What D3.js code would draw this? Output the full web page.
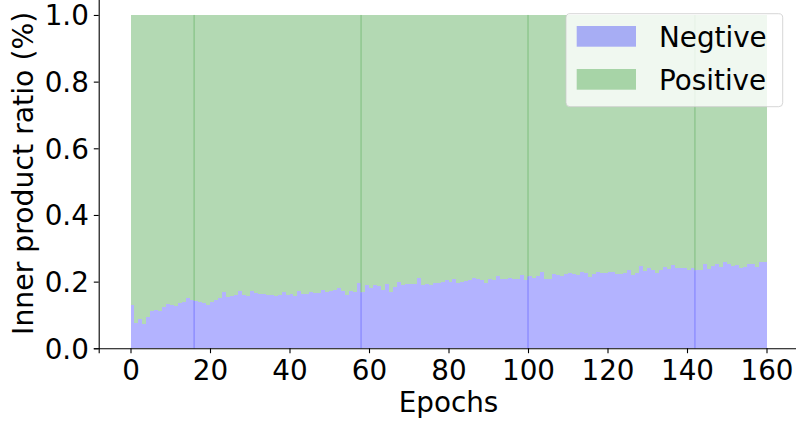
<!DOCTYPE html>
<html>
<head>
<meta charset="utf-8">
<script src="https://cdn.jsdelivr.net/npm/d3@7"></script>
<style>
  body { margin: 0; background: #fff; }
  svg { display: block; font-family: "DejaVu Sans", sans-serif; }
</style>
</head>
<body>
<svg id="chart" width="796" height="423"></svg>
<script>
// epochs 0..159, one bar each
const epochs = d3.range(160)

// share of negative inner products per epoch
const negativeRatio = [
  0.131, 0.076, 0.087, 0.073, 0.093, 0.111, 0.114, 0.111, 0.123, 0.133,
  0.129, 0.127, 0.135, 0.139, 0.150, 0.144, 0.143, 0.139, 0.137, 0.130,
  0.139, 0.146, 0.150, 0.168, 0.153, 0.156, 0.159, 0.171, 0.159, 0.157,
  0.173, 0.166, 0.164, 0.164, 0.161, 0.161, 0.157, 0.159, 0.168, 0.159,
  0.162, 0.157, 0.171, 0.164, 0.164, 0.168, 0.165, 0.165, 0.176, 0.169,
  0.173, 0.176, 0.182, 0.173, 0.161, 0.173, 0.170, 0.195, 0.168, 0.191,
  0.180, 0.191, 0.186, 0.174, 0.192, 0.168, 0.183, 0.200, 0.189, 0.192,
  0.194, 0.192, 0.210, 0.189, 0.194, 0.189, 0.197, 0.197, 0.200, 0.205,
  0.199, 0.209, 0.197, 0.200, 0.203, 0.206, 0.210, 0.209, 0.206, 0.195,
  0.207, 0.204, 0.216, 0.207, 0.209, 0.212, 0.209, 0.207, 0.219, 0.204,
  0.216, 0.211, 0.216, 0.228, 0.207, 0.207, 0.222, 0.219, 0.216, 0.223,
  0.225, 0.223, 0.219, 0.228, 0.226, 0.213, 0.223, 0.228, 0.225, 0.225,
  0.228, 0.230, 0.223, 0.223, 0.227, 0.234, 0.220, 0.225, 0.246, 0.231,
  0.240, 0.234, 0.225, 0.236, 0.243, 0.237, 0.249, 0.242, 0.242, 0.242,
  0.236, 0.242, 0.234, 0.236, 0.252, 0.237, 0.246, 0.254, 0.243, 0.258,
  0.253, 0.247, 0.249, 0.241, 0.243, 0.252, 0.252, 0.243, 0.260, 0.260
]
// the two ratios add up to 1
const positiveRatio = negativeRatio.map(v => 1 - v)

const seriesNames = ["Negtive", "Positive"]
const xTicks = [0, 20, 40, 60, 80, 100, 120, 140, 160]
const yTicks = [0, 0.2, 0.4, 0.6, 0.8, 1.0]
// epochs where a bar edge shows up as a darker seam
const seamEpochs = [16, 58, 100, 142]

const svg = d3.select("#chart")
const fontSize = 27.8

const x = d3.scaleLinear().domain([-8, 168]).range([98.7, 798.3])
const y = d3.scaleLinear().domain([0, 1.05]).range([348.3, -1.7])

const fillNeg = "#b3b3ff", fillPos = "#b3d9b3"

const rows = epochs.map(i => ({ epoch: i, Negtive: negativeRatio[i], Positive: positiveRatio[i] }))
const stacked = d3.stack().keys(seriesNames)(rows)

svg.append("g")
    .selectAll("g")
    .data(stacked)
    .enter()
    .append("g")
    .attr("fill", (d, i) => i === 0 ? fillNeg : fillPos)
    .selectAll("rect")
    .data(d => d)
    .enter()
    .append("rect")
    .attr("shape-rendering", "crispEdges")
    .attr("x", d => x(d.data.epoch))
    .attr("width", d => x(d.data.epoch + 1) - x(d.data.epoch))
    .attr("y", d => y(d[1]))
    .attr("height", d => y(d[0]) - y(d[1]))

// seams
const seams = svg.append("g").attr("stroke-width", 1)
seams.selectAll(".seam-neg")
    .data(seamEpochs)
    .enter()
    .append("line")
    .attr("stroke", "#7d7dff")
    .attr("x1", d => x(d)).attr("x2", d => x(d))
    .attr("y1", y(0)).attr("y2", d => y(negativeRatio[d]))
seams.selectAll(".seam-pos")
    .data(seamEpochs)
    .enter()
    .append("line")
    .attr("stroke", "#7dbe7d")
    .attr("x1", d => x(d)).attr("x2", d => x(d))
    .attr("y1", d => y(negativeRatio[d])).attr("y2", y(1))

// axes
const xAxis = svg.append("g")
    .attr("transform", "translate(0," + y(0) + ")")
    .call(d3.axisBottom(x).tickValues(xTicks).tickSize(4.9).tickPadding(4.9).tickFormat(d3.format("d")))
xAxis.selectAll("text").attr("y", 32).attr("dy", 0)

const yAxis = svg.append("g")
    .attr("transform", "translate(" + x(-8) + ",0)")
    .call(d3.axisLeft(y).tickValues(yTicks).tickSize(4.9).tickPadding(4.9).tickFormat(d3.format(".1f")))
yAxis.selectAll("text").attr("dy", "0.36em")

svg.selectAll(".domain").attr("stroke", "#000").attr("stroke-width", 1.1)
svg.selectAll(".tick line").attr("stroke", "#000").attr("stroke-width", 1.1)
svg.selectAll(".tick text")
    .attr("fill", "#000")
    .style("font-size", fontSize + "px")
    .style("font-family", "DejaVu Sans")

svg.append("text")
    .attr("x", (x(-8) + x(168)) / 2)
    .attr("y", 412)
    .attr("text-anchor", "middle")
    .style("font-size", fontSize + "px")
    .text("Epochs")

svg.append("text")
    .attr("transform", "translate(33.3," + (y(0) + y(1.05)) / 2 + ") rotate(-90)")
    .attr("text-anchor", "middle")
    .style("font-size", "28.3px")
    .text("Inner product ratio (%)")

// legend
const legend = svg.append("g")
legend.append("rect")
    .attr("x", 566).attr("y", 13.7)
    .attr("width", 216.7).attr("height", 93)
    .attr("rx", 4)
    .attr("fill", "rgba(255,255,255,0.8)")
    .attr("stroke", "rgba(204,204,204,0.8)")
    .attr("stroke-width", 1)

const legendColors = ["rgba(0,0,255,0.3)", "rgba(0,128,0,0.3)"]
seriesNames.forEach((name, i) => {
    legend.append("rect")
        .attr("x", 576.7).attr("y", 26 + i * 43)
        .attr("width", 59.3).attr("height", 20.7)
        .attr("fill", legendColors[i])
    legend.append("text")
        .attr("x", 659).attr("y", 47 + i * 42.5)
        .style("font-size", fontSize + "px")
        .text(name)
})
</script>
</body>
</html>
